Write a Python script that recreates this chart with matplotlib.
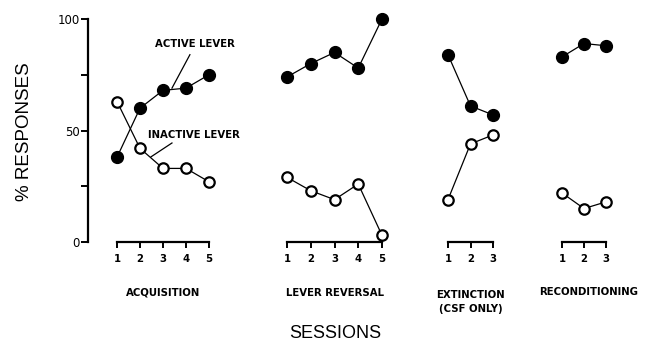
import numpy as np
import matplotlib.pyplot as plt

# % responses per session, read per phase
acq_sessions = [1, 2, 3, 4, 5]
acq_active = [38, 60, 68, 69, 75]
acq_inactive = [63, 42, 33, 33, 27]

rev_sessions = [1, 2, 3, 4, 5]
rev_active = [74, 80, 85, 78, 100]
rev_inactive = [29, 23, 19, 26, 3]

ext_sessions = [1, 2, 3]
ext_active = [84, 61, 57]
ext_inactive = [19, 44, 48]

rec_sessions = [1, 2, 3]
rec_active = [83, 89, 88]
rec_inactive = [22, 15, 18]

phase_names = ['ACQUISITION', 'LEVER REVERSAL', 'EXTINCTION\n(CSF ONLY)', 'RECONDITIONING']

W, H = 650, 350
fig = plt.figure(figsize=(W / 100, H / 100), dpi=100)

y_top, y_bot = 19, 242          # pixel rows of 100% and 0%
small = dict(family='DejaVu Sans', fontsize=7.3, fontweight='bold', color='black')


def make_axes(s1_px, sN_px, n, pad_left, pad_right=6):
    u = (sN_px - s1_px) / (n - 1)
    left = s1_px - pad_left
    right = sN_px + pad_right
    ax = fig.add_axes([left / W, 1 - y_bot / H, (right - left) / W, (y_bot - y_top) / H])
    ax.set_xlim(1 - pad_left / u, n + pad_right / u)
    ax.set_ylim(0, 100)
    for s in ['top', 'right']:
        ax.spines[s].set_visible(False)
    ax.spines['bottom'].set_bounds(1, n)
    ax.spines['bottom'].set_linewidth(1.6)
    ax.set_xticks(range(1, n + 1))
    ax.set_xticklabels([str(i) for i in range(1, n + 1)], **small)
    ax.tick_params(axis='x', direction='out', length=4, width=1.4, pad=5)
    ax.patch.set_visible(False)
    return ax


def draw(ax, x, active, inactive):
    ax.plot(x, active, '-o', color='black', lw=0.9, ms=8.5, mfc='black', mec='black', clip_on=False, zorder=3)
    ax.plot(x, inactive, '-o', color='black', lw=0.9, ms=7.5, mfc='white', mec='black', mew=1.6, clip_on=False, zorder=3)


ax1 = make_axes(117, 209, 5, 29)
ax2 = make_axes(287, 382, 5, 6)
ax3 = make_axes(448, 493, 3, 6)
ax4 = make_axes(562, 606, 3, 6)

# only the first panel carries the y axis
ax1.spines['left'].set_linewidth(1.6)
ax1.set_yticks([0, 25, 50, 75, 100])
ax1.set_yticklabels(['0', '', '50', '', '100'], family='DejaVu Sans', fontsize=8.5)
ax1.tick_params(axis='y', direction='out', length=5, width=1.4, pad=1)
for ax in (ax2, ax3, ax4):
    ax.spines['left'].set_visible(False)
    ax.set_yticks([])

draw(ax1, acq_sessions, acq_active, acq_inactive)
draw(ax2, rev_sessions, rev_active, rev_inactive)
draw(ax3, ext_sessions, ext_active, ext_inactive)
draw(ax4, rec_sessions, rec_active, rec_inactive)

# phase names under each bracket
for ax, name, xc, yo in zip((ax1, ax2, ax3, ax4), phase_names, (3, 3, 2, 2.2),
                            (-0.205, -0.205, -0.215, -0.2)):
    ax.text(xc, yo, name, transform=ax.get_xaxis_transform(), ha='center', va='top',
            linespacing=1.55, **small)

# series labels with leader lines
ax1.text(2.65, 89, 'ACTIVE LEVER', ha='left', va='center', **small)
ax1.plot([4.17, 3.39], [84, 69], color='black', lw=0.9, clip_on=False)
ax1.text(2.35, 48, 'INACTIVE LEVER', ha='left', va='center', **small)
ax1.plot([3.39, 2.48], [44.4, 38.2], color='black', lw=0.9, clip_on=False)

fig.text(25 / W, 1 - 132 / H, '% RESPONSES', rotation=90, ha='center', va='center',
         family='Liberation Sans', fontsize=13.5)
fig.text(335 / W, 1 - 334 / H, 'SESSIONS', ha='center', va='center',
         family='Liberation Sans', fontsize=13)

fig.savefig('out.png', dpi=100)
